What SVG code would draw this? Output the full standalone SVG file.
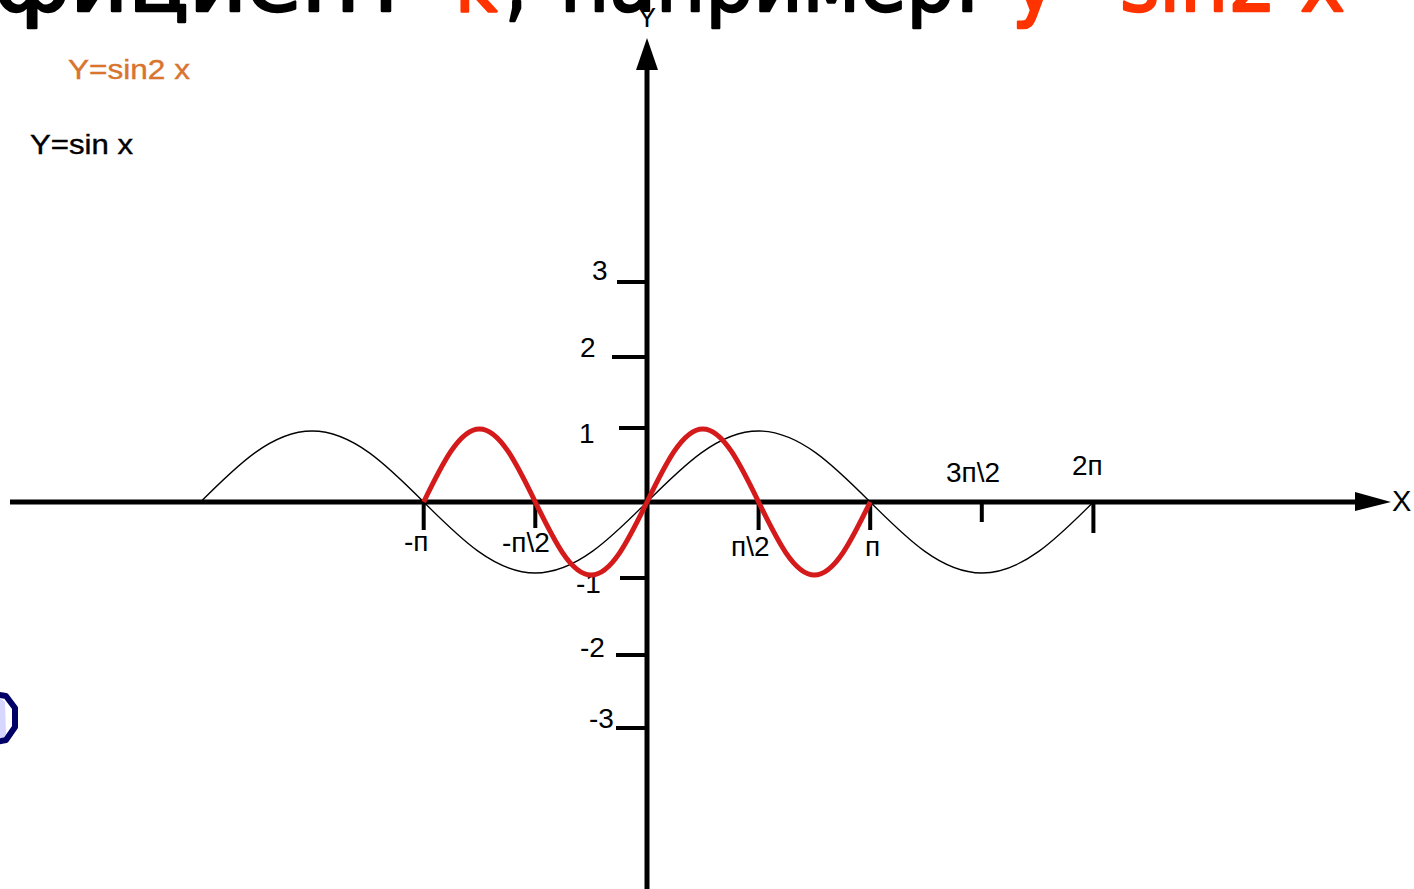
<svg xmlns="http://www.w3.org/2000/svg" width="1414" height="889" viewBox="0 0 1414 889">
<style>
.t{font-family:"Liberation Sans",Arial,sans-serif;font-size:28px;fill:#000}
.big{font-family:"DejaVu Sans","Noto Sans",sans-serif;font-size:82px;stroke-width:2.5;stroke-linejoin:round}
.blk{fill:#000;stroke:#000}
.red{fill:#ff3300;stroke:#ff3300}
.ax{stroke:#000;stroke-width:5;fill:none}
.tk{stroke:#000;stroke-width:4;fill:none}
</style>
<rect width="1414" height="889" fill="#fff"/>
<g id="title">
<text class="big" y="11"><tspan class="blk" x="-6" textLength="418" lengthAdjust="spacingAndGlyphs">фициент</tspan><tspan class="red" x="455" textLength="42" lengthAdjust="spacingAndGlyphs">k</tspan><tspan class="blk" x="505" textLength="22" lengthAdjust="spacingAndGlyphs">,</tspan><tspan class="blk" x="560" textLength="420" lengthAdjust="spacingAndGlyphs">например:</tspan><tspan class="red" x="1012" textLength="333" lengthAdjust="spacingAndGlyphs">y=sin2 x</tspan></text>
</g>
<g id="legend">
<text class="t" x="68" y="79" style="fill:#d9742f;stroke:#d9742f;stroke-width:0.4" textLength="122" lengthAdjust="spacingAndGlyphs">Y=sin2 x</text>
<text class="t" x="30" y="154" style="stroke:#000;stroke-width:0.4" textLength="103" lengthAdjust="spacingAndGlyphs">Y=sin x</text>
</g>
<g id="deco">
<path d="M0,698 L5,702 L6,735 L0,742 Z" fill="#d6d6ff"/>
<path d="M-12,693 L6,696 L15,708 L15,727 L6,740 L-8,743" fill="none" stroke="#000066" stroke-width="6" stroke-linejoin="round"/>
</g>
<g id="axes">
<line class="ax" x1="10" y1="502" x2="1360" y2="502"/>
<path d="M1355,492 L1391,502 L1355,511 Z" fill="#000"/>
<line class="ax" x1="647" y1="889" x2="647" y2="65"/>
<path d="M636,70 L647,38 L658,70 Z" fill="#000"/>
<text class="t" x="647" y="27" text-anchor="middle" style="font-size:27px">Y</text>
<text class="t" x="1392" y="511" style="font-size:29px">X</text>
</g>
<g id="yticks">
<line class="tk" x1="617" y1="282" x2="647" y2="282"/>
<line class="tk" x1="612" y1="357" x2="647" y2="357"/>
<line class="tk" x1="619" y1="428" x2="647" y2="428"/>
<line class="tk" x1="620" y1="578" x2="647" y2="578"/>
<line class="tk" x1="616" y1="655" x2="647" y2="655"/>
<line class="tk" x1="616" y1="728" x2="647" y2="728"/>
<text class="t" x="592" y="280">3</text>
<text class="t" x="580" y="357">2</text>
<text class="t" x="579" y="443">1</text>
<text class="t" x="576" y="593">-1</text>
<text class="t" x="580" y="657">-2</text>
<text class="t" x="589" y="728">-3</text>
</g>
<g id="xticks">
<line class="tk" x1="423.7" y1="502" x2="423.7" y2="530"/>
<line class="tk" x1="535.3" y1="502" x2="535.3" y2="528"/>
<line class="tk" x1="758.6" y1="502" x2="758.6" y2="530"/>
<line class="tk" x1="870.2" y1="502" x2="870.2" y2="530"/>
<line class="tk" x1="981.8" y1="502" x2="981.8" y2="522"/>
<line class="tk" x1="1093.4" y1="502" x2="1093.4" y2="533"/>
<text class="t" x="404" y="551">-п</text>
<text class="t" x="502" y="552">-п\2</text>
<text class="t" x="731" y="556">п\2</text>
<text class="t" x="865" y="556">п</text>
<text class="t" x="946" y="482">3п\2</text>
<text class="t" x="1072" y="475">2п</text>
</g>
<g id="curves">
<path id="sinx" d="M200.5,502 C236.9,465.6 271.7,431 312.1,431 S387.3,465.6 423.7,502 S494.9,573 535.3,573 S610.6,538.4 647,502 S718.2,431 758.6,431 S833.8,465.6 870.2,502 S941.4,573 981.8,573 S1057,538.4 1093.4,502" fill="none" stroke="#000" stroke-width="1.3"/>
<path id="sin2x" d="M423.7,502 C441.9,464.6 459.3,429 479.5,429 S517.1,464.6 535.3,502 S570.9,575 591.1,575 S628.8,539.4 647,502 S682.6,429 702.8,429 S740.4,464.6 758.6,502 S794.2,575 814.4,575 S852,539.4 870.2,502" fill="none" stroke="#d41a1a" stroke-width="5"/>
</g>
</svg>
